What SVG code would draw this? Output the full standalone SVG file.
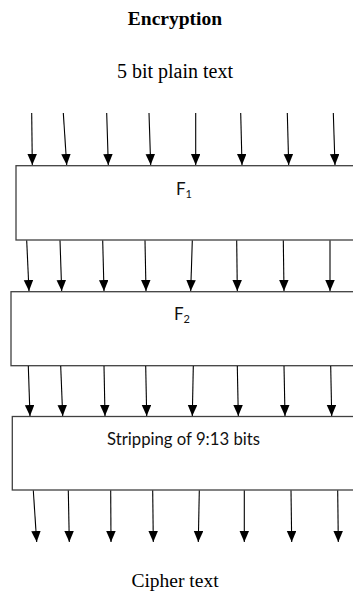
<svg xmlns="http://www.w3.org/2000/svg" width="353" height="592" viewBox="0 0 353 592">
<style>
.serif{font-family:"Liberation Serif","Times New Roman",serif;fill:#000;text-anchor:middle}
.box{fill:#fff;stroke:#404040;stroke-width:1.3}
.lbl{font-family:Lato,"Open Sans",sans-serif;font-size:17px;fill:#111;text-anchor:middle}
.sub{font-size:11px}
.arr{stroke:#000;stroke-width:1.1;fill:none;marker-end:url(#ah)}
</style>
<defs>
<marker id="ah" markerUnits="userSpaceOnUse" markerWidth="12" markerHeight="10" refX="11" refY="4.75" orient="auto">
<path d="M0,0 L11,4.75 L0,9.5 Z" fill="#000"/>
</marker>
</defs>
<rect width="353" height="592" fill="#fff"/>
<g id="title"><text class="serif" x="175" y="25" font-size="19.5" font-weight="bold">Encryption</text></g>
<g id="input"><text class="serif" x="175" y="78" font-size="20">5 bit plain text</text></g>
<g id="f1"><rect class="box" x="16" y="165.7" width="350" height="74.3"/>
<text class="lbl" x="184" y="195">F<tspan class="sub" dy="3">1</tspan></text></g>
<g id="f2"><rect class="box" x="11" y="291.7" width="355" height="74"/>
<text class="lbl" x="182" y="320">F<tspan class="sub" dy="3">2</tspan></text></g>
<g id="strip"><rect class="box" x="12.3" y="416.5" width="355" height="73.5"/>
<text class="lbl" x="183.5" y="445" textLength="153" lengthAdjust="spacingAndGlyphs">Stripping of 9:13 bits</text></g>
<g id="output"><text class="serif" x="175" y="587" font-size="19.5">Cipher text</text></g>
<g id="connectors">
<line class="arr" x1="31.7" y1="113" x2="32.3" y2="165"/>
<line class="arr" x1="63.3" y1="113" x2="66.7" y2="165"/>
<line class="arr" x1="106.7" y1="113" x2="108.3" y2="165"/>
<line class="arr" x1="149" y1="113" x2="150.7" y2="165"/>
<line class="arr" x1="195.7" y1="113" x2="195.7" y2="165"/>
<line class="arr" x1="240.7" y1="113" x2="242" y2="165"/>
<line class="arr" x1="287.3" y1="113" x2="288.7" y2="165"/>
<line class="arr" x1="333.3" y1="113" x2="335" y2="165"/>

<line class="arr" x1="26.7" y1="240.5" x2="29" y2="291"/>
<line class="arr" x1="60" y1="240.5" x2="61.7" y2="291"/>
<line class="arr" x1="102.7" y1="240.5" x2="104" y2="291"/>
<line class="arr" x1="145" y1="240.5" x2="146" y2="291"/>
<line class="arr" x1="192.3" y1="240.5" x2="190.7" y2="291"/>
<line class="arr" x1="236.7" y1="240.5" x2="237.3" y2="291"/>
<line class="arr" x1="283.3" y1="240.5" x2="284" y2="291"/>
<line class="arr" x1="330" y1="240.5" x2="330" y2="291"/>

<line class="arr" x1="28.3" y1="366" x2="30" y2="416"/>
<line class="arr" x1="60.7" y1="366" x2="62.7" y2="416"/>
<line class="arr" x1="104" y1="366" x2="105" y2="416"/>
<line class="arr" x1="145.7" y1="366" x2="146.7" y2="416"/>
<line class="arr" x1="193.3" y1="366" x2="192.3" y2="416"/>
<line class="arr" x1="237.3" y1="366" x2="238.3" y2="416"/>
<line class="arr" x1="284" y1="366" x2="285" y2="416"/>
<line class="arr" x1="330.7" y1="366" x2="331.7" y2="416"/>

<line class="arr" x1="33.3" y1="490.5" x2="36.7" y2="542"/>
<line class="arr" x1="68.3" y1="490.5" x2="69.3" y2="542"/>
<line class="arr" x1="110.7" y1="490.5" x2="111" y2="542"/>
<line class="arr" x1="152.7" y1="490.5" x2="153.3" y2="542"/>
<line class="arr" x1="199.3" y1="490.5" x2="198.3" y2="542"/>
<line class="arr" x1="244.3" y1="490.5" x2="244.3" y2="542"/>
<line class="arr" x1="291" y1="490.5" x2="291.7" y2="542"/>
<line class="arr" x1="337.7" y1="490.5" x2="338.3" y2="542"/>
</g>
</svg>
